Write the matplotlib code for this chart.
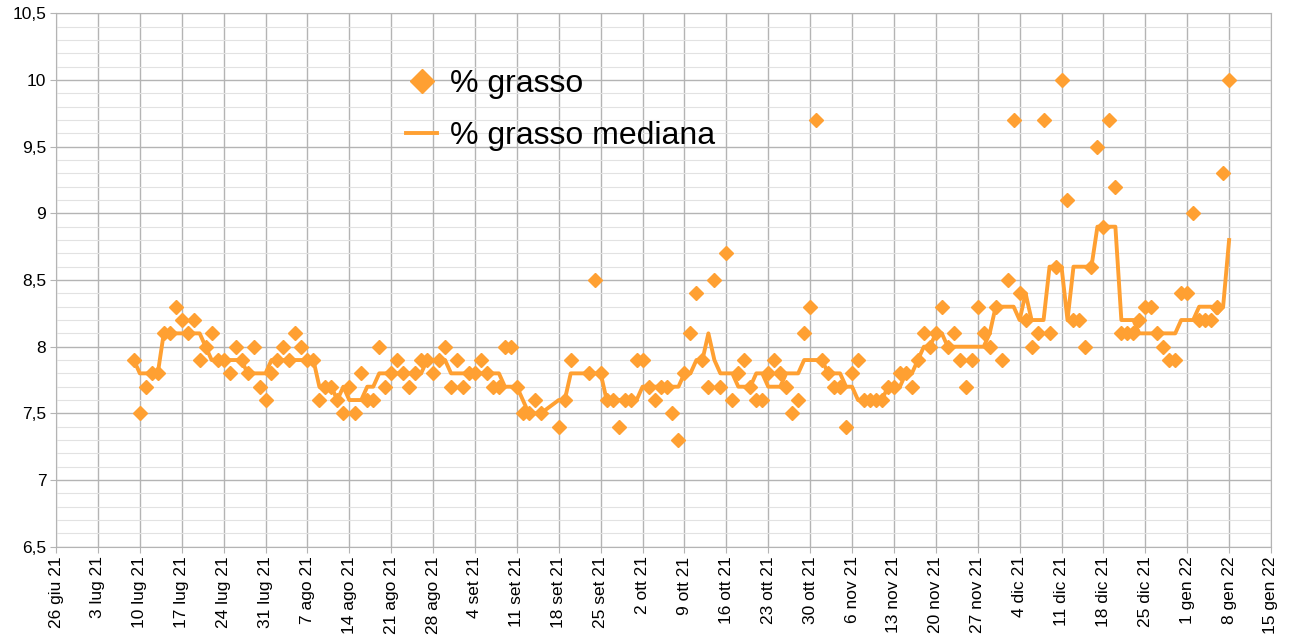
import numpy as np
import pandas as pd
import matplotlib
matplotlib.use('Agg')
import matplotlib.pyplot as plt
from matplotlib.ticker import MultipleLocator
from matplotlib.lines import Line2D

plt.rcParams['font.family'] = ['Liberation Sans', 'DejaVu Sans']

# valori, giorno per giorno
giorni_lug = [9, 10, 11, 12, 13, 14, 15, 16, 17, 18, 19, 20, 21, 22, 23, 24, 25, 26, 27, 28, 29, 30, 31]
grasso_lug = [7.9, 7.5, 7.7, 7.8, 7.8, 8.1, 8.1, 8.3, 8.2, 8.1, 8.2, 7.9, 8.0, 8.1, 7.9, 7.9,
              7.8, 8.0, 7.9, 7.8, 8.0, 7.7, 7.6]
mediana_lug = [7.9, 7.8, 7.8, 7.8, 7.8, 8.1, 8.1, 8.1, 8.1, 8.1, 8.1, 8.1, 8.0, 7.9, 7.9, 7.9,
               7.9, 7.9, 7.9, 7.8, 7.8, 7.8, 7.8]

giorni_ago = [1, 2, 3, 4, 5, 6, 7, 8, 9, 10, 11, 12, 13, 14, 15, 16, 17, 18, 19, 20, 21, 22, 23,
              24, 25, 26, 27, 28, 29, 30, 31]
grasso_ago = [7.8, 7.9, 8.0, 7.9, 8.1, 8.0, 7.9, 7.9, 7.6, 7.7, 7.7, 7.6, 7.5, 7.7, 7.5, 7.8,
              7.6, 7.6, 8.0, 7.7, 7.8, 7.9, 7.8, 7.7, 7.8, 7.9, 7.9, 7.8, 7.9, 8.0, 7.7]
mediana_ago = [7.9, 7.9, 7.9, 7.9, 7.9, 7.9, 7.9, 7.9, 7.7, 7.7, 7.7, 7.6, 7.7, 7.6, 7.6, 7.6,
               7.7, 7.7, 7.8, 7.8, 7.8, 7.8, 7.8, 7.8, 7.8, 7.8, 7.9, 7.9, 7.9, 7.9, 7.8]

giorni_set = [1, 2, 3, 4, 5, 6, 7, 8, 9, 10, 11, 12, 13, 14, 15, 18, 19, 20, 23, 24, 25, 26, 27,
              28, 29, 30]
grasso_set = [7.9, 7.7, 7.8, 7.8, 7.9, 7.8, 7.7, 7.7, 8.0, 8.0, 7.7, 7.5, 7.5, 7.6, 7.5, 7.4,
              7.6, 7.9, 7.8, 8.5, 7.8, 7.6, 7.6, 7.4, 7.6, 7.6]
mediana_set = [7.8, 7.8, 7.8, 7.8, 7.8, 7.8, 7.8, 7.8, 7.7, 7.7, 7.7, 7.6, 7.5, 7.5, 7.5, 7.6,
               7.6, 7.8, 7.8, 7.8, 7.8, 7.6, 7.6, 7.6, 7.6, 7.6]

giorni_ott = [1, 2, 3, 4, 5, 6, 7, 8, 9, 10, 11, 12, 13, 14, 15, 16, 17, 18, 19, 20, 21, 22, 23,
              24, 25, 26, 27, 28, 29, 30, 31]
grasso_ott = [7.9, 7.9, 7.7, 7.6, 7.7, 7.7, 7.5, 7.3, 7.8, 8.1, 8.4, 7.9, 7.7, 8.5, 7.7, 8.7,
              7.6, 7.8, 7.9, 7.7, 7.6, 7.6, 7.8, 7.9, 7.8, 7.7, 7.5, 7.6, 8.1, 8.3, 9.7]
mediana_ott = [7.6, 7.7, 7.7, 7.7, 7.7, 7.7, 7.7, 7.7, 7.8, 7.8, 7.9, 7.9, 8.1, 7.9, 7.8, 7.8,
               7.8, 7.7, 7.7, 7.7, 7.8, 7.8, 7.7, 7.7, 7.7, 7.8, 7.8, 7.8, 7.9, 7.9, 7.9]

giorni_nov = [1, 2, 3, 4, 5, 6, 7, 8, 9, 10, 11, 12, 13, 14, 15, 16, 17, 18, 19, 20, 21, 22, 23,
              24, 25, 26, 27, 28, 29, 30]
grasso_nov = [7.9, 7.8, 7.7, 7.7, 7.4, 7.8, 7.9, 7.6, 7.6, 7.6, 7.6, 7.7, 7.7, 7.8, 7.8, 7.7,
              7.9, 8.1, 8.0, 8.1, 8.3, 8.0, 8.1, 7.9, 7.7, 7.9, 8.3, 8.1, 8.0, 8.3]
mediana_nov = [7.9, 7.8, 7.8, 7.8, 7.7, 7.7, 7.6, 7.6, 7.6, 7.6, 7.6, 7.7, 7.7, 7.7, 7.8, 7.8,
               7.9, 8.0, 8.0, 8.1, 8.1, 8.0, 8.0, 8.0, 8.0, 8.0, 8.0, 8.0, 8.1, 8.3]

giorni_dic = [1, 2, 3, 4, 5, 6, 7, 8, 9, 10, 11, 12, 13, 14, 15, 16, 17, 18, 19, 20, 21, 22, 23,
              24, 25, 26, 27, 28, 29, 30, 31]
grasso_dic = [7.9, 8.5, 9.7, 8.4, 8.2, 8.0, 8.1, 9.7, 8.1, 8.6, 10.0, 9.1, 8.2, 8.2, 8.0, 8.6,
              9.5, 8.9, 9.7, 9.2, 8.1, 8.1, 8.1, 8.2, 8.3, 8.3, 8.1, 8.0, 7.9, 7.9, 8.4]
mediana_dic = [8.3, 8.3, 8.3, 8.2, 8.4, 8.2, 8.2, 8.2, 8.6, 8.6, 8.6, 8.2, 8.6, 8.6, 8.6, 8.6,
               8.9, 8.9, 8.9, 8.9, 8.2, 8.2, 8.2, 8.1, 8.1, 8.1, 8.1, 8.1, 8.1, 8.1, 8.2]

giorni_gen = [1, 2, 3, 4, 5, 6, 7, 8]
grasso_gen = [8.4, 9.0, 8.2, 8.2, 8.2, 8.3, 9.3, 10.0]
mediana_gen = [8.2, 8.2, 8.3, 8.3, 8.3, 8.25, 8.3, 8.8]

etichette_x = ['26 giu 21', '3 lug 21', '10 lug 21', '17 lug 21', '24 lug 21', '31 lug 21',
               '7 ago 21', '14 ago 21', '21 ago 21', '28 ago 21', '4 set 21', '11 set 21',
               '18 set 21', '25 set 21', '2 ott 21', '9 ott 21', '16 ott 21', '23 ott 21',
               '30 ott 21', '6 nov 21', '13 nov 21', '20 nov 21', '27 nov 21', '4 dic 21',
               '11 dic 21', '18 dic 21', '25 dic 21', '1 gen 22', '8 gen 22', '15 gen 22']
etichette_y = ['6,5', '7', '7,5', '8', '8,5', '9', '9,5', '10', '10,5']


def giorni(anno, mese, gg):
    return [pd.Timestamp(anno, mese, g) for g in gg]


date = (giorni(2021, 7, giorni_lug) + giorni(2021, 8, giorni_ago) + giorni(2021, 9, giorni_set)
        + giorni(2021, 10, giorni_ott) + giorni(2021, 11, giorni_nov)
        + giorni(2021, 12, giorni_dic) + giorni(2022, 1, giorni_gen))
grasso = grasso_lug + grasso_ago + grasso_set + grasso_ott + grasso_nov + grasso_dic + grasso_gen
mediana = (mediana_lug + mediana_ago + mediana_set + mediana_ott + mediana_nov + mediana_dic
           + mediana_gen)

arancio = '#FFA032'

fig = plt.figure(figsize=(12.91, 6.36), dpi=100)
ax = fig.add_axes([0.0434, 0.1404, 0.9411, 0.8386])

ax.plot(date, mediana, color=arancio, lw=2.8, zorder=3)
ax.plot(date, grasso, 'D', color=arancio, ms=7, ls='none', zorder=4)

tick_date = pd.date_range('2021-06-26', '2022-01-15', freq='7D')
ax.set_xlim(tick_date[0], tick_date[-1])
ax.set_xticks(tick_date)
ax.set_xticklabels(etichette_x, rotation=90, fontsize=12.5)

ax.set_ylim(6.5, 10.5)
ax.set_yticks(np.arange(6.5, 10.51, 0.5))
ax.set_yticklabels(etichette_y, fontsize=12.5)
ax.yaxis.set_minor_locator(MultipleLocator(0.1))

ax.set_axisbelow(True)
ax.grid(which='major', axis='both', color='#b4b4b4', lw=1)
ax.grid(which='minor', axis='y', color='#e2e2e2', lw=0.8)
ax.tick_params(which='major', length=4, color='#b4b4b4', pad=3)
ax.tick_params(which='minor', length=0)
for s in ax.spines.values():
    s.set_color('#b4b4b4')

maniglie = [Line2D([], [], marker='D', ls='none', color=arancio, ms=12),
            Line2D([], [], color=arancio, lw=2.8)]
ax.legend(maniglie, ['% grasso', '% grasso mediana'], loc='upper left',
          bbox_to_anchor=(0.264, 0.95), frameon=False, fontsize=23,
          handlelength=1.0, handletextpad=0.4, labelspacing=0.7)

fig.savefig('out.png', dpi=100)
